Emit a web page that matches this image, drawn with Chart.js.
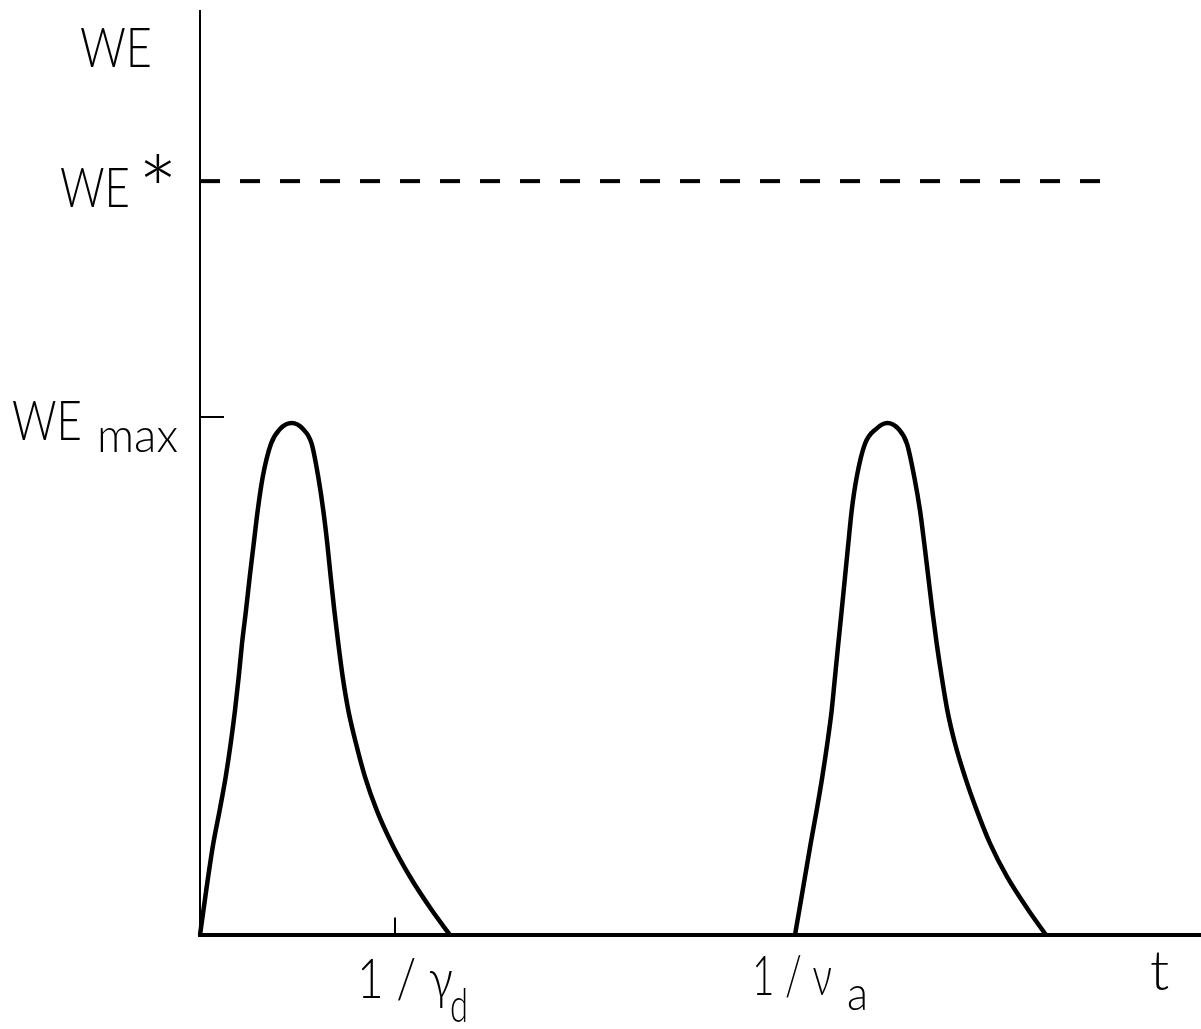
<!DOCTYPE html>
<html>
<head>
<meta charset="utf-8">
<script src="https://cdn.jsdelivr.net/npm/chart.js@4.4.1/dist/chart.umd.min.js"></script>
<style>
  html, body { margin: 0; padding: 0; background: #fff; }
  #wrap { width: 1201px; height: 1029px; }
</style>
</head>
<body>
<div id="wrap"><canvas id="c"></canvas></div>
<script>
// first pulse, starts at t = 0
const pulse1T  = [0, 0.067, 0.133, 0.197, 0.257, 0.307, 0.35, 0.387, 0.42, 0.46, 0.497, 0.537, 0.577, 0.627, 0.71, 0.80, 0.917,
                  1.03, 1.117, 1.183, 1.233, 1.273, 1.307, 1.343, 1.383, 1.427, 1.483, 1.56, 1.65, 1.767, 1.917, 2.10, 2.317, 2.50];
const pulse1WE = [0, 0.52, 0.99, 1.35, 1.71, 2.07, 2.43, 2.79, 3.15, 3.51, 3.87, 4.23, 4.59, 4.95, 5.31, 5.47, 5.535,
                  5.47, 5.31, 4.95, 4.59, 4.23, 3.87, 3.51, 3.15, 2.79, 2.43, 2.07, 1.71, 1.35, 0.99, 0.63, 0.27, 0];
// second pulse, starts at t = 1/nu_a
const pulse2T  = [5.95, 5.993, 6.05, 6.107, 6.167, 6.223, 6.273, 6.317, 6.35, 6.383, 6.417, 6.45, 6.483, 6.517, 6.567, 6.65, 6.76, 6.873,
                  6.985, 7.07, 7.143, 7.20, 7.243, 7.283, 7.323, 7.367, 7.417, 7.473, 7.55, 7.65, 7.767, 7.90, 8.07, 8.283, 8.46];
const pulse2WE = [0, 0.27, 0.63, 0.99, 1.35, 1.71, 2.07, 2.43, 2.79, 3.15, 3.51, 3.87, 4.23, 4.59, 4.95, 5.31, 5.47, 5.535,
                  5.47, 5.31, 4.95, 4.59, 4.23, 3.87, 3.51, 3.15, 2.79, 2.43, 2.07, 1.71, 1.35, 0.99, 0.63, 0.27, 0];

const WE_STAR = 8.15;
const WE_MAX = 5.6;
const starT = [0, 9.0];
const T_GAMMA = 1.95;   // 1/gamma_d
const T_NU = 5.95;      // 1/nu_a

const toPts = (xs, ys) => xs.map((x, i) => ({ x: x, y: ys[i] }));

const FONT = "Lato, 'Liberation Sans', sans-serif";

function txt(ctx, s, x, y, size, maxW) {
  ctx.font = "300 " + size + "px " + FONT;
  ctx.textAlign = "left";
  ctx.textBaseline = "alphabetic";
  if (maxW) ctx.fillText(s, x, y, maxW);
  else ctx.fillText(s, x, y);
}

// draw a glyph so that its ink box is centred on (cx, cy)
function glyphAt(ctx, s, cx, cy, size) {
  ctx.font = "300 " + size + "px " + FONT;
  ctx.textAlign = "left";
  ctx.textBaseline = "alphabetic";
  const m = ctx.measureText(s);
  const w = m.actualBoundingBoxRight + m.actualBoundingBoxLeft;
  const h = m.actualBoundingBoxAscent + m.actualBoundingBoxDescent;
  ctx.fillText(s, cx - w / 2 + m.actualBoundingBoxLeft, cy + h / 2 - m.actualBoundingBoxDescent);
}

const axesAndLabels = {
  id: "axesAndLabels",
  beforeDatasetsDraw(chart) {
    const { ctx, chartArea: a } = chart;
    ctx.save();
    ctx.strokeStyle = "#000";
    ctx.lineWidth = 2;
    ctx.beginPath();
    ctx.moveTo(a.left, a.top);
    ctx.lineTo(a.left, a.bottom);
    ctx.stroke();
    ctx.lineWidth = 4;
    ctx.beginPath();
    ctx.moveTo(a.left - 2, a.bottom);
    ctx.lineTo(a.right + 1, a.bottom);
    ctx.stroke();
    ctx.restore();
  },
  afterDatasetsDraw(chart) {
    const { ctx, chartArea: a, scales } = chart;
    const xs = scales.x, ys = scales.y;
    ctx.save();
    ctx.fillStyle = "#000";

    // y axis name
    txt(ctx, "WE", a.left - 120, a.top + 57, 56, 72);

    // WE*
    const yStar = ys.getPixelForValue(WE_STAR);
    txt(ctx, "WE", a.left - 140, yStar + 26, 56, 70);
    glyphAt(ctx, "*", a.left - 42, yStar - 13, 96);

    // WE_max
    const yMax = ys.getPixelForValue(WE_MAX);
    txt(ctx, "WE", a.left - 188, yMax + 23, 56, 70);
    txt(ctx, "max", a.left - 103, yMax + 35, 48, 81);

    // 1/gamma_d
    const xg = xs.getPixelForValue(T_GAMMA);
    txt(ctx, "1 / γ", xg - 38, a.bottom + 63, 56, 96);
    txt(ctx, "d", xg + 55, a.bottom + 87, 48, 18);

    // 1/nu_a
    const xn = xs.getPixelForValue(T_NU);
    txt(ctx, "1 / ν", xn - 43, a.bottom + 60, 56, 80);
    txt(ctx, "a", xn + 52, a.bottom + 75, 48, 21);

    // t
    txt(ctx, "t", a.right - 50, a.bottom + 55, 56);
    ctx.restore();
  }
};

new Chart(document.getElementById("c"), {
  type: "line",
  data: {
    datasets: [
      { data: toPts(pulse1T, pulse1WE), borderColor: "#000", borderWidth: 4.5, cubicInterpolationMode: "monotone", clip: false },
      { data: toPts(pulse2T, pulse2WE), borderColor: "#000", borderWidth: 4.5, cubicInterpolationMode: "monotone", clip: false },
      { data: toPts(starT, [WE_STAR, WE_STAR]), borderColor: "#000", borderWidth: 4, borderDash: [20, 20], clip: false },
      { data: toPts([0, 0.24], [WE_MAX, WE_MAX]), borderColor: "#000", borderWidth: 2, clip: false },
      { data: toPts([T_GAMMA, T_GAMMA], [0, 0.19]), borderColor: "#000", borderWidth: 2, clip: false }
    ]
  },
  options: {
    responsive: true,
    maintainAspectRatio: false,
    animation: false,
    layout: { padding: { left: 200, right: 1, top: 10, bottom: 94 } },
    elements: { point: { radius: 0 } },
    scales: {
      x: { type: "linear", min: 0, max: 10, display: false },
      y: { type: "linear", min: 0, max: 10, display: false }
    },
    plugins: { legend: { display: false }, tooltip: { enabled: false } }
  },
  plugins: [axesAndLabels]
});
</script>
</body>
</html>
